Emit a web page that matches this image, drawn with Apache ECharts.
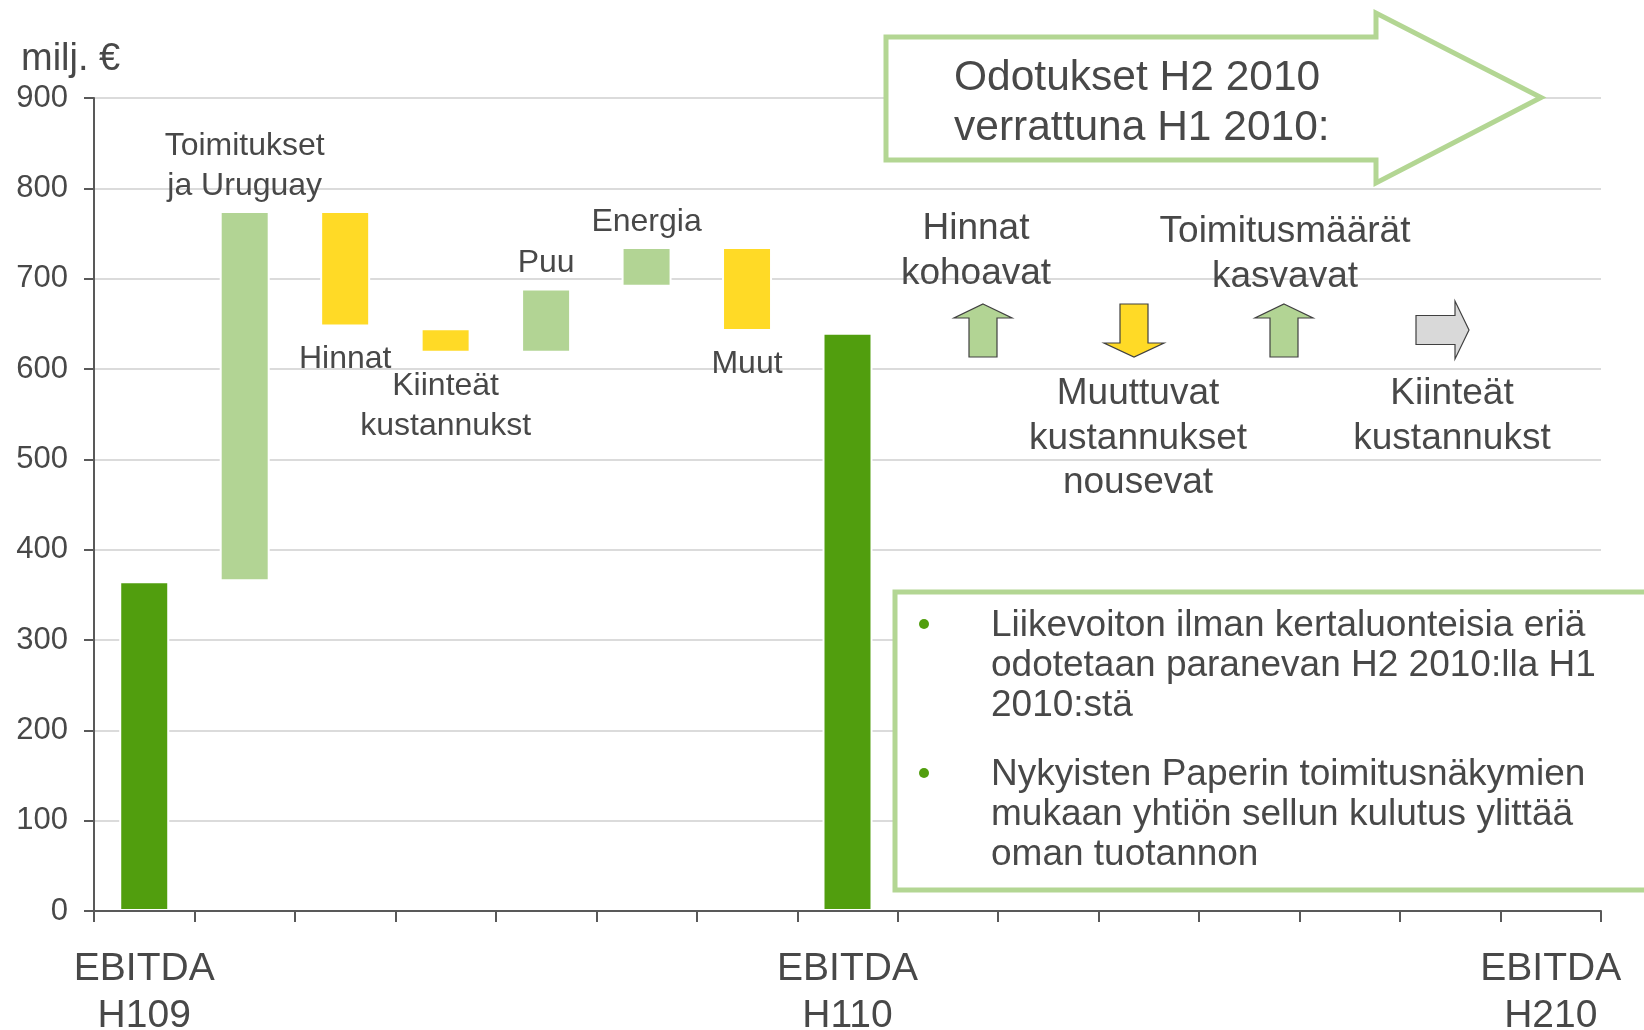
<!DOCTYPE html>
<html>
<head>
<meta charset="utf-8">
<script src="https://cdn.jsdelivr.net/npm/echarts@6/dist/echarts.min.js"></script>
<style>
html,body{margin:0;padding:0;background:#fff;}
#chart{width:1644px;height:1030px;}
</style>
</head>
<body>
<div id="chart"></div>
<script>
// ---- data ----
const categories = ['EBITDA H109','Toimitukset ja Uruguay','Hinnat','Kiinteät kustannukst','Puu','Energia','Muut','EBITDA H110','tyhjä 1','tyhjä 2','tyhjä 3','tyhjä 4','tyhjä 5','tyhjä 6','EBITDA H210'];
const xTickLabels = ['EBITDA\nH109','','','','','','','EBITDA\nH110','','','','','','','EBITDA\nH210'];
const barLabels = ['','Toimitukset\nja Uruguay','Hinnat','Kiinteät\nkustannukst','Puu','Energia','Muut',''];
const barKind = ['total','up','down','down','up','up','down','total'];
const barLow  = [0, 365, 647, 618, 618, 691, 642, 0];
const barHigh = [365, 775, 775, 645, 689, 735, 735, 640];
const yTicks = [0,100,200,300,400,500,600,700,800,900];
const unitLabel = 'milj. €';
const outlookTitle = 'Odotukset H2 2010\nverrattuna H1 2010:';
const outlookItems = [
  {text:'Hinnat\nkohoavat', dir:'up'},
  {text:'Muuttuvat\nkustannukset\nnousevat', dir:'down'},
  {text:'Toimitusmäärät\nkasvavat', dir:'up'},
  {text:'Kiinteät\nkustannukst', dir:'flat'}
];
const bullets = [
  'Liikevoiton ilman kertaluonteisia eriä\nodotetaan paranevan H2 2010:lla H1\n2010:stä',
  'Nykyisten Paperin toimitusnäkymien\nmukaan yhtiön sellun kulutus ylittää\noman tuotannon'
];

// ---- styles ----
const FONT = '"Liberation Sans", Arial, sans-serif';
const TXT = '#484848';
const C = {total:'#519E0E', up:'#B2D494', down:'#FFDA26', flat:'#D9D9D9'};
const FRAME = '#B3D693';

const chart = echarts.init(document.getElementById('chart'), null, {renderer:'canvas'});

const visible = barLow.map((lo,i)=>{
  const below = barKind[i]==='down';
  return {
    value: barHigh[i]-lo,
    itemStyle:{color:C[barKind[i]]},
    label:{
      show: !!barLabels[i],
      position: below ? 'bottom' : 'top',
      distance: below ? 13 : 5,
      formatter: barLabels[i]
    }
  };
});

// annotation geometry (pixels)
function upArrow(cx, top, headY, bottom, hw, sw){
  return [[cx,top],[cx+hw,headY],[cx+sw,headY],[cx+sw,bottom],[cx-sw,bottom],[cx-sw,headY],[cx-hw,headY]];
}
function downArrow(cx, top, headY, tip, hw, sw){
  return [[cx-sw,top],[cx+sw,top],[cx+sw,headY],[cx+hw,headY],[cx,tip],[cx-hw,headY],[cx-sw,headY]];
}
function rightArrow(left, cy, headX, tip, hh, sh){
  return [[left,cy-sh],[headX,cy-sh],[headX,cy-hh],[tip,cy],[headX,cy+hh],[headX,cy+sh],[left,cy+sh]];
}
const arrowPos = [
  {cx:983, tx:976, textY:207},
  {cx:1134, tx:1138, textY:372},
  {cx:1284, tx:1285, textY:210},
  {cx:1442, tx:1452, textY:372}
];
const graphics = [];
graphics.push({
  type:'polygon', z:100,
  shape:{points:[[886,37],[1376,37],[1376,13],[1541,97.5],[1376,183],[1376,160],[886,160]]},
  style:{fill:'#fff', stroke:FRAME, lineWidth:5, lineJoin:'miter'}
});
graphics.push({
  type:'text', z:101,
  style:{text:outlookTitle, x:954, y:53, fill:TXT, fontSize:42.5, fontFamily:FONT, lineHeight:50, align:'left', verticalAlign:'top'}
});
outlookItems.forEach((it,i)=>{
  const p = arrowPos[i];
  let pts;
  if(it.dir==='up') pts = upArrow(p.cx, 304, 318, 357, 29, 14);
  else if(it.dir==='down') pts = downArrow(p.cx, 304, 343, 357, 30, 14);
  else pts = rightArrow(1416, 330, 1455, 1469, 29, 14.5);
  graphics.push({
    type:'polygon', z:100,
    shape:{points:pts},
    style:{fill:C[it.dir], stroke:'#404040', lineWidth:1.2}
  });
  graphics.push({
    type:'text', z:101,
    style:{text:it.text, x:p.tx, y:p.textY, fill:TXT, fontSize:37, fontFamily:FONT, lineHeight:44.5, align:'center', verticalAlign:'top'}
  });
});
graphics.push({
  type:'rect', z:100,
  shape:{x:895, y:592, width:800, height:298},
  style:{fill:'#fff', stroke:FRAME, lineWidth:5}
});
const bulletTop = [606, 755];
bullets.forEach((b,i)=>{
  graphics.push({type:'circle', z:101, shape:{cx:924, cy:bulletTop[i]+18, r:5}, style:{fill:C.total}});
  graphics.push({
    type:'text', z:101,
    style:{text:b, x:991, y:bulletTop[i], fill:TXT, fontSize:37, fontFamily:FONT, lineHeight:40, align:'left', verticalAlign:'top'}
  });
});

const option = {
  animation:false,
  backgroundColor:'#fff',
  textStyle:{fontFamily:FONT, color:TXT},
  title:{text:unitLabel, left:21, top:40, padding:0, textStyle:{fontSize:38, fontWeight:'normal', color:TXT, fontFamily:FONT, lineHeight:40}},
  grid:{left:94, top:98, width:1507, height:813, containLabel:false, outerBoundsMode:'none'},
  xAxis:{
    type:'category', data:categories, z:3,
    axisLine:{show:true, lineStyle:{color:'#595959', width:2}},
    axisTick:{show:true, interval:0, length:11, lineStyle:{color:'#595959', width:2}},
    axisLabel:{interval:0, margin:35, fontSize:39, lineHeight:47, color:TXT, fontFamily:FONT,
      formatter:(v,i)=>xTickLabels[i]},
    splitLine:{show:false}
  },
  yAxis:{
    type:'value', min:yTicks[0], max:yTicks[yTicks.length-1], interval:100,
    axisLine:{show:true, lineStyle:{color:'#595959', width:2}},
    axisTick:{show:true, length:10, lineStyle:{color:'#595959', width:2}},
    axisLabel:{margin:26, fontSize:31, color:TXT, fontFamily:FONT},
    splitLine:{show:true, lineStyle:{color:'#cfcfcf', width:1.5}}
  },
  series:[
    {type:'bar', stack:'wf', data:barLow, barWidth:50, itemStyle:{color:'rgba(0,0,0,0)'}, silent:true, emphasis:{disabled:true}},
    {type:'bar', stack:'wf', data:visible, barWidth:50,
      itemStyle:{borderColor:'#fff', borderWidth:2},
      label:{fontSize:32, lineHeight:40, color:TXT, fontFamily:FONT},
      emphasis:{disabled:true}}
  ],
  graphic:graphics
};
chart.setOption(option);
</script>
</body>
</html>
